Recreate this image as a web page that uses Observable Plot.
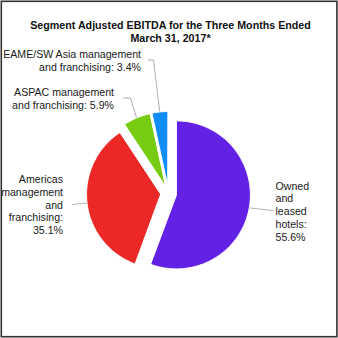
<!DOCTYPE html>
<html><head><meta charset="utf-8">
<script src="https://cdn.jsdelivr.net/npm/d3@7"></script>
<script src="https://cdn.jsdelivr.net/npm/@observablehq/plot@0.6"></script>
<style>html,body{margin:0;padding:0;background:#fff}</style>
</head><body><div id="chart"></div>
<script>
// ---- data ----
const segments = [
  "Owned and leased hotels",
  "Americas management and franchising",
  "ASPAC management and franchising",
  "EAME/SW Asia management and franchising"
];
const shares = [55.6, 35.1, 5.9, 3.4];
const labels = [
  "Owned\nand\nleased\nhotels:\n55.6%",
  "Americas\nmanagement\nand\nfranchising:\n35.1%",
  "ASPAC management\nand franchising: 5.9%",
  "EAME/SW Asia management\nand franchising: 3.4%"
];
const colors = ["#6421e6", "#ec2826", "#77cc12", "#118dfa"];
const titleLines = ["Segment Adjusted EBITDA for the Three Months Ended", "March 31, 2017*"];

// ---- layout ----
const W = 338, H = 338;
const cx = 168, cy = 193, R = 74, explode = 8;
// leader bends / ends and label anchors (layout only)
const leaderTail = [
  [[272, 210]],
  [[72, 204]],
  [[130, 97.5], [123, 97.5]],
  [[153, 59.5], [148, 59.5]]
];
const labelPos = [
  {x: 275, y: 210.5, anchor: "start"},
  {x: 62.5, y: 204, anchor: "end"},
  {x: 113.5, y: 98, anchor: "end"},
  {x: 140.5, y: 60, anchor: "end"}
];

const arcs = d3.pie().sort(null).value(d => d)(shares);

const slicePts = [];
const leaderPts = [];
const labelRows = [];
arcs.forEach((a, i) => {
  const mid = (a.startAngle + a.endAngle) / 2;
  const ox = cx + explode * Math.sin(mid);
  const oy = cy - explode * Math.cos(mid);
  slicePts.push({seg: segments[i], x: ox, y: oy});
  const n = Math.max(4, Math.ceil((a.endAngle - a.startAngle) / (Math.PI / 180)));
  for (let k = 0; k <= n; k++) {
    const t = a.startAngle + (a.endAngle - a.startAngle) * k / n;
    slicePts.push({seg: segments[i], x: ox + R * Math.sin(t), y: oy - R * Math.cos(t)});
  }
  leaderPts.push({seg: segments[i], x: ox + R * Math.sin(mid), y: oy - R * Math.cos(mid)});
  leaderTail[i].forEach(([x, y]) => leaderPts.push({seg: segments[i], x, y}));
  labelRows.push({seg: segments[i], text: labels[i], ...labelPos[i]});
});

const titleRows = titleLines.map((t, i) => ({text: t, y: 25.5 + i * 13}));

const font = "'Liberation Sans', Arial, Helvetica, sans-serif";
const labelStyle = {x: "x", y: "y", text: "text", lineAnchor: "middle", lineHeight: 1.2, fontSize: 10.6, fill: "#1a1a1a"};

const chart = Plot.plot({
  width: W,
  height: H,
  margin: 0,
  style: {fontFamily: font, background: "#fff"},
  x: {domain: [0, W], range: [0, W], axis: null},
  y: {domain: [0, H], range: [0, H], axis: null},
  color: {domain: segments, range: colors},
  marks: [
    Plot.frame({stroke: "#333", strokeWidth: 1.6, insetTop: 0.8, insetLeft: 0.8, insetRight: 1.6, insetBottom: 1.8}),
    Plot.line(leaderPts, {x: "x", y: "y", z: "seg", stroke: "#b0b0b0", strokeWidth: 1, curve: "linear"}),
    Plot.line(slicePts, {x: "x", y: "y", z: "seg", fill: "seg", stroke: "white", strokeWidth: 1, curve: "linear-closed"}),
    Plot.text(labelRows.filter(d => d.anchor === "start"), {...labelStyle, textAnchor: "start"}),
    Plot.text(labelRows.filter(d => d.anchor === "end"), {...labelStyle, textAnchor: "end"}),
    Plot.text(titleRows, {x: W / 2 + 1, y: "y", text: "text", fontSize: 10.7, fontWeight: "bold", fill: "#111"})
  ]
});
document.getElementById("chart").appendChild(chart);
</script>
</body></html>
